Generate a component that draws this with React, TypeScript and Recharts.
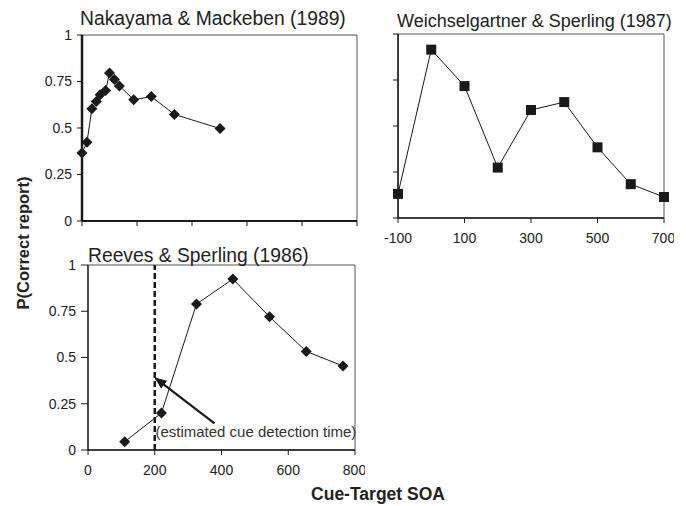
import React from 'react';
import { LineChart, Line, XAxis, YAxis, ReferenceArea, ReferenceLine, ReferenceDot } from 'recharts';

const FONT = '"Liberation Sans", Arial, Helvetica, sans-serif';
const INK = '#1a1a1a';
const TXT = '#222';

// Nakayama & Mackeben (1989)
const nmSoa = [0, 9, 18, 26, 33, 43, 50, 59, 68, 94, 126, 168, 251];
const nmP = [0.366, 0.423, 0.604, 0.643, 0.679, 0.701, 0.796, 0.761, 0.726, 0.652, 0.669, 0.573, 0.497];
const nmTicks = [0, 100, 200, 300, 400, 500];

// Weichselgartner & Sperling (1987)
const wsSoa = [-100, 0, 100, 200, 300, 400, 500, 600, 700];
const wsP = [0.131, 0.915, 0.717, 0.274, 0.587, 0.63, 0.384, 0.184, 0.114];
const wsTicks = [-100, 100, 300, 500, 700];

// Reeves & Sperling (1986)
const rsSoa = [110, 220, 325, 434, 544, 654, 764];
const rsP = [0.045, 0.2, 0.789, 0.924, 0.72, 0.533, 0.454];
const rsTicks = [0, 200, 400, 600, 800];

const pTicks = [0, 0.25, 0.5, 0.75, 1];

const titles = ['Nakayama & Mackeben (1989)', 'Weichselgartner & Sperling (1987)', 'Reeves & Sperling (1986)'];
const yLabel = 'P(Correct report)';
const xLabel = 'Cue-Target SOA';
const noteText = '(estimated cue detection time)';
const cueDetection = 200;
const arrowFrom = { x: 379, y: 0.144 };
const arrowTo = { x: 202, y: 0.389 };
const noteAt = { x: 202, y: 0.099 };

const nmData = nmSoa.map((soa, i) => ({ soa, p: nmP[i] }));
const wsData = wsSoa.map((soa, i) => ({ soa, p: wsP[i] }));
const rsData = rsSoa.map((soa, i) => ({ soa, p: rsP[i] }));

const renderDiamond = (props: any) => {
  const { cx, cy, index } = props;
  if (cx == null || cy == null) return <g key={`d${index}`} />;
  const r = 5.5;
  return <path key={`d${index}`} d={`M${cx},${cy - r}L${cx + r},${cy}L${cx},${cy + r}L${cx - r},${cy}Z`} fill={INK} />;
};

const renderSquare = (props: any) => {
  const { cx, cy, index } = props;
  if (cx == null || cy == null) return <g key={`s${index}`} />;
  const r = 5;
  return <rect key={`s${index}`} x={cx - r} y={cy - r} width={2 * r} height={2 * r} fill={INK} />;
};

const noLabel = () => <g />;

const tickStyle = { fontSize: 14, fill: TXT, fontFamily: FONT };

export default function App() {
  return (
    <div style={{ position: 'absolute', left: 0, top: 0, width: 686, height: 506, background: '#fff', fontFamily: FONT }}>
      <svg width={0} height={0} style={{ position: 'absolute' }}>
        <defs>
          <marker id="arrowHead" viewBox="0 0 12 10" refX="11" refY="5" markerWidth="12" markerHeight="10" markerUnits="userSpaceOnUse" orient="auto">
            <path d="M0,0L12,5L0,10Z" fill={INK} />
          </marker>
        </defs>
      </svg>

      {/* Nakayama & Mackeben */}
      <div style={{ position: 'absolute', left: 0, top: 0 }}>
        <LineChart width={367} height={251} data={nmData} margin={{ top: 35, right: 10, bottom: 0, left: 0 }}>
          <ReferenceArea x1={0} x2={500} y1={0} y2={1} fill="none" fillOpacity={0} stroke="#555" strokeWidth={1} />
          <XAxis dataKey="soa" type="number" domain={[0, 500]} ticks={nmTicks} tick={noLabel} tickSize={5} height={30}
            stroke={INK} axisLine={{ stroke: INK, strokeWidth: 2 }} />
          <YAxis type="number" domain={[0, 1]} ticks={pTicks} width={82} tickSize={5} tickMargin={5} tick={tickStyle}
            stroke={INK} axisLine={{ stroke: INK, strokeWidth: 2.5 }} />
          <Line dataKey="p" stroke={INK} strokeWidth={1} dot={renderDiamond} isAnimationActive={false} />
        </LineChart>
      </div>

      {/* Weichselgartner & Sperling */}
      <div style={{ position: 'absolute', left: 360, top: 0 }}>
        <LineChart width={314} height={253} data={wsData} margin={{ top: 34, right: 10, bottom: 0, left: 0 }}>
          <ReferenceArea x1={-100} x2={700} y1={0} y2={1} fill="none" fillOpacity={0} stroke="#555" strokeWidth={1} />
          <XAxis dataKey="soa" type="number" domain={[-100, 700]} ticks={wsTicks} tickSize={5} tickMargin={10} height={35} tick={tickStyle}
            stroke={INK} axisLine={{ stroke: INK, strokeWidth: 1.5 }} />
          <YAxis type="number" domain={[0, 1]} ticks={pTicks} width={38} tickSize={5} tick={noLabel}
            stroke={INK} axisLine={{ stroke: INK, strokeWidth: 1.5 }} />
          <Line dataKey="p" stroke={INK} strokeWidth={1} dot={renderSquare} isAnimationActive={false} />
        </LineChart>
      </div>

      {/* Reeves & Sperling */}
      <div style={{ position: 'absolute', left: 0, top: 230 }}>
        <LineChart width={365} height={250} data={rsData} margin={{ top: 35, right: 10, bottom: 0, left: 0 }}>
          <ReferenceArea x1={0} x2={800} y1={0} y2={1} fill="none" fillOpacity={0} stroke="#555" strokeWidth={1} />
          <XAxis dataKey="soa" type="number" domain={[0, 800]} ticks={rsTicks} tickSize={5} tickMargin={10} height={30} tick={tickStyle}
            stroke={INK} axisLine={{ stroke: INK, strokeWidth: 1.3 }} />
          <YAxis type="number" domain={[0, 1]} ticks={pTicks} width={88} tickSize={7} tickMargin={5} tick={tickStyle}
            stroke={INK} axisLine={{ stroke: INK, strokeWidth: 1.3 }} />
          <ReferenceLine x={cueDetection} stroke={INK} strokeWidth={2.5} strokeDasharray="6 3" />
          <ReferenceLine segment={[arrowFrom, arrowTo]} stroke={INK} strokeWidth={2.2}
            shape={(p: any) => <line x1={p.x1} y1={p.y1} x2={p.x2} y2={p.y2} stroke={INK} strokeWidth={2.2} markerEnd="url(#arrowHead)" />} />
          <Line dataKey="p" stroke={INK} strokeWidth={1} dot={renderDiamond} isAnimationActive={false} />
          <ReferenceDot x={noteAt.x} y={noteAt.y} r={0} fill="none" stroke="none"
            label={{ value: noteText, position: 'right', offset: 0, fontSize: 15, fill: '#333', fontFamily: FONT }} />
        </LineChart>
      </div>

      <svg width={686} height={506} style={{ position: 'absolute', left: 0, top: 0, pointerEvents: 'none' }}>
        <text x={80} y={25} fontSize={19.3} fill={TXT} fontFamily={FONT}>{titles[0]}</text>
        <text x={397} y={27} fontSize={18} fill={TXT} fontFamily={FONT}>{titles[1]}</text>
        <text x={88} y={262} fontSize={19.3} fill={TXT} fontFamily={FONT}>{titles[2]}</text>
        <text x={29} y={243} fontSize={16.5} fontWeight="bold" fill={TXT} fontFamily={FONT} textAnchor="middle"
          transform="rotate(-90 29 243)">{yLabel}</text>
        <text x={378} y={500} fontSize={17.5} fontWeight="bold" fill={TXT} fontFamily={FONT} textAnchor="middle">{xLabel}</text>
      </svg>
    </div>
  );
}
